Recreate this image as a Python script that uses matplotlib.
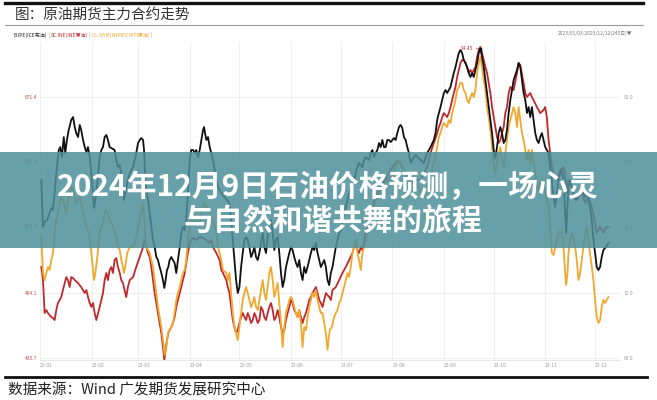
import matplotlib
matplotlib.use("Agg")
import matplotlib.pyplot as plt
import numpy as np
import pandas as pd
from matplotlib.patches import Rectangle
from matplotlib.lines import Line2D

plt.rcParams['font.family'] = ['Noto Sans CJK SC', 'DejaVu Sans']

# ---------------- data (days counted from 2023-01-01) ----------------
brent_day = [0.8, 1.8, 2.8, 4.2, 5.8, 6.6, 7.8, 8.8, 9.8, 11.3, 12.2, 13.2, 14.3, 15.2, 16.2, 17.3,
             18.8, 19.9, 20.9, 21.8, 22.9, 23.9, 24.8, 25.9, 26.9, 27.9, 28.9, 29.9, 30.9, 31.9, 32.5,
             33.3, 34.5, 35.9, 36.9, 37.9, 38.9, 39.9, 40.9, 41.9, 42.9, 44.9, 45.9, 46.9, 48.0, 48.9,
             49.9, 50.5, 51.3, 52.5, 54.0, 56.0,
             57.9, 59.0, 60.0, 60.9, 62.0, 62.6, 63.2, 64.0, 65.0, 66.0, 67.0, 68.0, 69.0, 70.0, 71.0,
             72.0, 73.0, 74.0, 74.8, 75.6, 76.4, 77.2, 78.0, 79.0, 80.0, 81.0, 82.0, 83.0, 84.1, 85.0,
             86.0, 87.1, 88.0, 89.0, 90.1, 91.0, 92.1, 93.1, 94.0, 95.1, 96.1, 97.1, 98.1, 98.7, 99.3,
             100.1, 101.1, 102.1, 103.1, 104.1, 105.1, 106.1, 107.1, 108.1, 109.1, 111.1, 114,
             115, 116, 117, 118, 119, 120, 121, 122, 123, 124, 125, 126, 127, 128, 129, 130, 131, 132,
             133, 134, 135, 136, 137, 138, 139, 140, 141, 142, 143, 144, 145, 146, 147, 148, 149, 150,
             151, 152, 153, 154, 155, 156, 157, 158, 159, 160, 161, 162, 163, 164, 165, 166, 167, 168, 169,
             171, 172, 173, 174, 175, 176, 177, 178, 179, 180, 181, 182, 183, 184, 185, 186, 187, 188,
             189, 190, 191, 192, 194, 195, 196, 198, 199, 200, 201, 202, 203, 204, 205, 206, 207, 208,
             209, 210, 211, 212, 213, 214, 215, 216, 217, 218, 219, 220, 221, 222, 223, 224, 225, 226,
             229, 231, 233, 235, 237, 238, 239, 240, 241, 242, 243, 244, 245, 246, 247, 248, 249, 250,
             251, 252, 253, 254, 255, 256, 257, 258, 259, 260, 261, 262, 263, 264, 265, 266, 267, 268,
             269, 270, 271, 272, 273, 274, 275, 276, 277, 278, 279, 280, 281, 282, 283, 284,
             285, 287, 288, 289, 290, 291, 292, 293, 294, 295, 296, 297, 298, 299, 300, 301, 302, 303,
             304, 305, 306, 307, 308, 309, 310, 311, 312, 313, 314, 315, 316, 316.6, 317.4, 318, 319,
             320, 321, 322, 323, 324, 325, 326, 327, 328, 329, 330, 331, 332, 333, 334, 335, 336, 337,
             338, 339, 340, 342]
brent_usd = [82.37, 78.05, 78.51, 78.69, 79.33, 79.79, 79.61, 81.17, 83.01, 85.13, 85.40, 84.48, 86.32,
             84.85, 86.05, 86.97, 87.89, 88.16, 87.24, 86.69, 86.32, 87.43, 86.97, 86.05, 85.40, 84.94,
             85.40, 84.48, 83.01, 81.17, 79.79, 80.53, 82.09, 84.48, 85.13, 85.40, 86.32, 86.51, 86.05,
             85.40, 85.31, 85.13, 84.21, 83.56, 83.74, 83.01, 82.09, 80.53, 81.17, 82.09, 83.01, 83.56,
             84.85, 85.77, 86.05, 86.23, 86.05, 85.13, 83.01, 81.45, 80.53, 79.33, 78.05, 76.85, 76.21,
             75.29, 75.01, 74.37, 73.82, 73.17, 72.44, 73.17, 74.09, 74.37, 75.01, 75.29, 75.01, 74.74,
             73.82, 75.01, 76.21, 77.49, 78.05, 77.77, 78.69, 81.17, 84.21, 85.13, 85.13, 84.85, 85.13,
             84.48, 85.13, 86.05, 86.97, 87.24, 86.69, 86.05, 86.32, 85.40, 84.85, 84.21, 83.29, 82.37,
             81.72, 81.45, 81.17, 80.80, 80.25,
             78.69, 76.85, 75.01, 73.17, 71.98, 72.53, 74.37, 75.66, 76.85, 77.13, 76.85, 76.21, 75.29,
             75.66, 76.21, 75.29, 75.01, 75.66, 76.57, 77.49, 76.21, 75.66, 77.13, 78.41, 78.69, 77.49,
             75.93, 76.85, 77.13, 75.66, 73.82, 72.53, 73.17, 74.37, 75.01, 75.66, 76.21, 75.93, 75.29,
             74.74, 74.37, 75.01, 73.82, 73.17, 74.37, 73.82, 74.37, 75.01, 75.66, 76.21, 75.93, 76.57,
             75.66, 75.01, 74.37,
             75.01, 74.37, 73.17, 72.71, 73.82, 74.37, 75.29, 76.21, 76.85, 77.49, 77.77, 78.69, 79.33,
             79.89, 80.53, 81.17, 81.72, 82.09, 82.37, 83.01, 83.56, 83.93, 83.56, 84.21, 84.48, 84.21,
             84.85, 85.13, 84.48, 84.85, 85.13, 85.77, 85.40, 86.05, 85.40, 85.40, 86.05, 86.05, 85.86,
             86.05, 86.23, 86.05, 86.69, 87.24, 87.43, 87.15, 86.32, 86.05, 85.40, 84.85, 83.93, 84.21,
             84.48, 84.67,
             84.21, 83.93, 84.85, 85.40, 86.05, 86.69, 87.89, 88.53, 89.08, 89.72, 90.37, 90.64, 90.37,
             90.64, 90.92, 91.56, 92.21, 92.76, 93.40, 94.05, 94.32, 94.05, 93.40, 93.13, 92.76, 92.21,
             91.84, 92.21, 91.84, 92.48, 93.13, 94.05, 94.45, 93.68, 92.76, 91.56, 90.37, 89.08, 87.89,
             86.69, 85.13, 84.39, 85.40, 86.69, 87.24, 86.69, 85.77, 86.05, 86.97, 88.53, 89.72, 90.64,
             91.56, 92.48, 93.13, 92.76, 91.56, 90.37, 89.72, 88.53, 89.08, 88.16, 89.08, 87.89, 86.69,
             86.05, 85.77, 86.32, 86.69, 86.05, 85.40, 85.13, 84.85, 83.56, 82.37, 80.80, 79.89, 81.17,
             82.37, 83.01, 83.29, 82.37, 79.33, 77.49, 79.89, 81.72, 82.37, 81.72, 81.17, 80.80, 80.53,
             80.80, 81.45, 81.72, 81.17, 80.80, 81.17, 80.53, 79.89, 78.69, 76.85, 75.66, 74.37, 74.09,
             74.37, 75.29, 75.93, 76.11, 76.57]

wti_day = [0.8, 1.8, 2.8, 3.8, 4.8, 5.8, 6.8, 7.8, 8.8, 9.8, 10.8, 11.9, 12.8, 13.8, 14.9, 15.8, 16.8,
           17.9, 18.8, 19.9, 20.9, 21.8, 22.9, 23.9, 24.8, 25.9, 26.9, 27.9, 28.9, 29.9, 30.9, 31.9,
           32.5, 33.3, 34.5, 35.9, 36.9, 37.9, 38.9, 39.9, 40.9, 41.9, 43.9, 45.9, 46.9, 48.0, 48.9,
           49.9, 50.5, 51.3, 52.5, 54.0, 56.0, 57.2,
           62.0, 64.0, 66.0, 68.0, 70.0, 71.0, 72.0, 73.0, 74.0, 75.0, 76.0, 77.0, 78.0, 79.0, 80.0,
           81.0, 82.0, 83.0, 84.1, 85.0, 86.0, 87.1, 88.0, 89.0, 90.1, 91.0, 92.1, 94.0, 96.1, 97.1,
           98.1, 99.1, 100.1, 101.1, 102.1, 104.1, 106.1, 107.1, 108.1, 109.1, 110.1, 112.1,
           113, 114, 115, 116, 117, 118, 119, 120, 121, 122, 123, 124, 125, 126, 127, 128, 129, 130,
           131, 132, 133, 134, 135, 136, 137, 138, 139, 140, 141, 142, 143, 144, 145, 146, 147, 148,
           149, 150, 151, 152, 153, 154, 155, 156, 157, 158, 159, 160, 161, 162, 163, 164, 165, 166,
           167, 168, 169,
           170, 171, 172, 173, 173.6, 174.4, 175.6, 177, 178, 179, 180, 181, 182, 183, 184, 185, 186,
           187, 188, 189, 190, 191, 192, 193, 194, 195, 196, 197, 198, 199, 200, 201, 202, 204, 206,
           208, 210, 212, 214, 216, 218, 220, 222, 224, 226, 228,
           229, 231, 233, 235, 237, 239, 240, 241, 242, 243, 245, 246, 247, 248, 249, 250, 251, 252,
           253, 254, 255, 256, 257, 258, 259, 260, 261, 262, 263, 264, 265, 266, 267, 268, 269, 270,
           271, 272, 273, 274, 275, 276, 277, 278, 279, 280, 281, 282, 283,
           285, 286, 287, 288, 289, 290, 291, 292, 293, 294, 295, 296, 297, 298, 299, 300, 301, 302,
           303, 304, 305, 306, 307, 308, 309, 310, 311, 312, 313, 314, 315, 316, 316.6, 317.4, 318,
           319, 320, 321, 322, 323, 324, 325, 326, 327, 328, 329, 330, 331, 332, 333, 334, 335, 336,
           337, 338, 339, 340, 342]
wti_usd = [77.13, 73.82, 73.17, 73.82, 74.37, 74.09, 75.01, 75.66, 77.49, 78.69, 79.33, 80.25, 80.80,
           80.53, 79.89, 79.33, 80.53, 81.17, 81.72, 81.45, 80.80, 80.25, 80.53, 80.80, 80.25, 79.33,
           78.69, 78.05, 77.77, 76.85, 75.66, 74.09, 73.17, 73.82, 75.29, 77.49, 78.05, 78.41, 79.33,
           79.61, 79.15, 78.69, 78.05, 77.13, 76.21, 75.93, 75.01, 74.37, 73.82, 74.37, 75.66, 76.21,
           76.21, 76.57,
           80.25, 76.21, 75.66, 74.37, 71.98, 70.69, 69.77, 68.85, 67.66, 66.28, 67.01, 68.30, 68.57,
           68.85, 69.22, 70.14, 71.33, 71.98, 72.53, 73.17, 73.82, 74.09, 75.01, 76.85, 78.05, 78.69,
           78.51, 78.69, 78.41, 79.33, 79.89, 80.25, 79.89, 79.61, 79.33, 78.69, 77.49, 76.21, 75.66,
           75.01, 74.09, 73.82,
           73.17, 73.82, 71.98, 70.14, 68.85, 68.30, 67.66, 68.85, 70.14, 71.33, 71.98, 72.53, 71.98,
           71.33, 70.69, 71.06, 71.61, 70.69, 70.41, 71.33, 72.25, 73.17, 71.98, 71.33, 72.53, 73.82,
           74.37, 73.17, 71.61, 72.25, 72.90, 71.06, 69.22, 67.01, 68.85, 70.14, 70.69, 71.33, 71.61,
           71.33, 70.69, 70.14, 69.77, 70.41, 69.22, 67.01, 68.85, 68.57, 69.77, 70.69, 71.33, 71.98,
           71.61, 72.25, 71.33, 70.69, 70.14,
           70.14, 69.22, 68.30, 66.74, 67.66, 68.57, 68.85, 69.77, 70.14, 70.41, 71.06, 71.33, 71.98,
           72.53, 73.17, 73.82, 73.45, 74.37, 75.66, 76.21, 76.85, 75.66, 75.01, 74.09, 75.66, 76.21,
           76.85, 77.49, 78.05, 78.69, 79.33, 79.89, 80.53, 81.17, 81.72, 82.09, 82.37, 82.64, 83.56,
           84.21, 83.56, 83.01, 82.09, 81.72, 82.09, 81.72,
           81.17, 80.80, 81.72, 82.64, 83.93, 85.40, 86.32, 86.69, 87.24, 87.61, 87.24, 87.89, 87.61,
           88.53, 89.08, 89.72, 90.64, 90.92, 91.29, 91.29, 90.64, 90.37, 89.72, 89.45, 90.00, 90.37,
           90.00, 90.64, 92.21, 93.13, 93.68, 92.76, 91.56, 90.64, 89.08, 88.16, 86.97, 85.40, 83.93,
           83.01, 83.93, 84.85, 85.40, 84.48, 83.56, 84.85, 86.05, 87.24, 87.89,
           89.08, 88.53, 87.24, 89.08, 87.89, 86.69, 86.05, 85.13, 84.21, 85.13, 83.93, 85.13, 83.93,
           83.01, 81.72, 81.45, 82.09, 82.37, 81.72, 81.17, 80.53, 79.89, 78.05, 75.66, 75.47, 76.21,
           76.85, 77.49, 77.77, 77.49, 76.21, 73.82, 72.71, 73.82, 75.66, 76.85, 77.49, 77.13, 76.21,
           75.01, 73.17, 73.82, 75.01, 76.21, 77.49, 78.05, 76.85, 75.66, 74.37, 73.17, 71.33, 69.77,
           69.22, 69.49, 70.69, 71.33, 71.06, 71.61]

sc_day = [0.8, 1.8, 2.8, 3.8, 4.8, 5.8, 6.8, 7.8, 8.8, 9.8, 10.8, 11.9, 12.8, 13.8, 14.9, 15.8, 16.8,
          17.9, 18.8, 19.9, 20.9, 22.9, 24.8, 26.9, 27.9, 28.9, 29.9, 30.9, 31.9, 32.9, 33.9, 35.0,
          35.9, 36.9, 37.9, 38.9, 39.9, 40.9, 41.9, 42.9, 43.9, 44.9, 45.9, 46.9, 48.0, 48.9, 49.9,
          50.9, 51.9, 52.9, 54.0, 56.0,
          57.9, 60.0, 62.0, 63.0, 64.0, 65.0, 66.0, 67.0, 68.0, 69.0, 70.0, 71.0, 72.0, 73.0, 74.0,
          74.8, 75.6, 76.4, 77.2, 78.0, 79.0, 80.0, 81.0, 82.0, 83.0, 84.1, 85.0, 86.0, 87.1, 88.0,
          89.0, 90.1, 91.0, 92.1, 94.0, 96.1, 98.1, 100.1, 102.1, 103.1, 104.1, 106.1, 108.1, 109.1,
          110.1, 112.1,
          113, 114, 115, 116, 117, 118, 119, 120, 121, 122, 123, 124, 125, 126, 127, 128, 129, 130,
          131, 132, 133, 134, 135, 136, 137, 138, 139, 140, 141, 142, 143, 144, 145, 146, 147, 148,
          149, 150, 151, 152, 153, 154, 155, 156, 157, 158, 159, 160, 161, 162, 163, 164, 165, 166,
          167, 168, 169,
          170, 172, 174, 175, 176, 178, 180, 182, 184, 186, 188, 189, 190, 191, 192, 193, 194, 195,
          196, 197, 198, 200, 202, 204, 206, 208, 210, 212, 214, 216, 218, 220, 222, 224, 226,
          229, 231, 233, 235, 237, 239, 240, 241, 242, 243, 245, 246, 247, 248, 249, 250, 251, 252,
          253, 254, 255, 256, 257, 258, 259, 260, 261, 262, 263, 264, 265, 266, 267, 268, 269, 270,
          271, 272, 273, 274, 275, 276, 277, 278, 279, 280, 281, 282, 283,
          285, 287, 288, 289, 291, 292, 293, 295, 296, 297, 299, 301, 303, 304, 305, 306, 307, 308,
          309, 311, 313, 315, 316, 317, 318, 320, 322, 324, 326, 328, 330, 332, 334, 335, 336, 337,
          338, 339, 340, 342]
sc_cny = [517.9, 506.1, 476.3, 479.0, 476.3, 474.5, 472.7, 471.8, 470.0, 479.0, 485.4, 488.1, 490.8,
          497.1, 503.4, 508.8, 506.1, 499.8, 508.8, 508.0, 506.1, 503.4, 499.8, 494.4, 497.1, 490.8,
          485.4, 481.8, 485.4, 476.3, 470.0, 476.3, 481.8, 488.1, 494.4, 506.1, 512.5, 506.1, 515.2,
          517.9, 512.5, 524.2, 526.0, 517.9, 512.5, 506.1, 503.4, 497.1, 490.8, 499.8, 506.1, 508.8,
          517.9, 526.9, 535.9, 542.3, 535.9, 530.5, 526.9, 517.9, 506.1, 494.4, 485.4, 476.3, 467.3,
          458.3, 445.6, 433.9, 442.9, 451.9, 458.3, 461.0, 463.7, 467.3, 472.7, 481.8, 488.1, 494.4,
          499.8, 506.1, 512.5, 521.5, 530.5, 539.5, 542.3, 544.1, 542.3, 545.0, 544.1, 542.3, 539.5,
          542.3, 535.9, 530.5, 524.2, 515.2, 512.5, 506.1,
          499.8, 494.4, 481.8, 470.0, 463.7, 458.3, 461.0, 467.3, 472.7, 476.3, 472.7, 470.0, 476.3,
          472.7, 467.3, 470.0, 476.3, 472.7, 467.3, 470.0, 481.8, 479.0, 472.7, 470.0, 476.3, 481.8,
          485.4, 479.0, 470.0, 472.7, 479.0, 472.7, 463.7, 458.3, 461.0, 470.0, 476.3, 481.8, 488.1,
          485.4, 479.0, 476.3, 472.7, 479.0, 472.7, 467.3, 472.7, 476.3, 481.8, 488.1, 490.8, 494.4,
          497.1, 499.8, 494.4, 488.1, 485.4,
          481.8, 494.4, 490.8, 488.1, 497.1, 499.8, 506.1, 512.5, 517.9, 524.2, 530.5, 535.9, 542.3,
          533.2, 530.5, 535.9, 533.2, 539.5, 548.6, 554.0, 560.3, 572.1, 581.1, 587.4, 593.7, 596.4,
          602.8, 608.2, 611.8, 614.5, 608.2, 602.8, 596.4, 593.7, 596.4,
          596.4, 602.8, 608.2, 620.8, 629.9, 638.9, 644.3, 647.9, 653.3, 656.9, 653.3, 656.9, 662.4,
          668.7, 675.0, 680.4, 689.5, 695.8, 702.1, 704.8, 704.8, 702.1, 698.5, 693.1, 695.8, 693.1,
          695.8, 698.5, 707.5, 713.8, 716.6, 711.1, 704.8, 698.5, 693.1, 684.0, 675.0, 662.4, 653.3,
          644.3, 635.3, 629.9, 632.6, 638.9, 644.3, 656.9, 662.4, 675.0, 680.4,
          677.7, 693.1, 702.1, 700.3, 684.0, 675.0, 671.4, 675.0, 671.4, 668.7, 662.4, 656.9, 659.7,
          662.4, 653.3, 632.6, 620.8, 608.2, 602.8, 596.4, 605.5, 608.2, 602.8, 584.7, 596.4, 590.1,
          578.4, 581.1, 584.7, 575.7, 581.1, 572.1, 557.6, 548.6, 551.3, 554.0, 551.3, 548.6, 553.1,
          554.0]

left_ticks = [435.7, 494.1, 555.3, 613.4, 671.4]
right_ticks = [66.0, 72.0, 78.0, 84.0, 90.0]
month_labels = ['23-01', '23-02', '23-03', '23-04', '23-05', '23-06',
                '23-07', '23-08', '23-09', '23-10', '23-11', '23-12']
legend_parts = [('B.IPE(ICE布油)', '#222222'), (' | ', '#999999'),
                ('SC.INE(INE原油)', '#c0282d'), (' | ', '#999999'),
                ('CL.NYM(NYMEX WTI原油)', '#f0a92e'), (' |', '#999999')]

base = pd.Timestamp('2023-01-01')


def to_dates(days):
    return base + pd.to_timedelta(np.asarray(days, dtype=float), unit='D')


# ---------------- figure ----------------
W, H = 657, 400
fig = plt.figure(figsize=(W / 100, H / 100), dpi=100)
fig.patch.set_facecolor('white')

ax = fig.add_axes([40 / W, 40 / H, 580 / W, 318 / H])
ax2 = ax.twinx()

R_LO, R_HI = 65.82, 95.06
scale = (671.4 - 435.7) / 24.0
ax2.set_ylim(R_LO, R_HI)
ax.set_ylim(435.7 + (R_LO - 66) * scale, 435.7 + (R_HI - 66) * scale)
ax.set_xlim(base, base + pd.Timedelta(days=349))

LW = 1.3
ax.plot(to_dates(sc_day), sc_cny, color='#c0282d', lw=LW, zorder=3)
ax2.plot(to_dates(wti_day), wti_usd, color='#f0a92e', lw=LW, zorder=3)
ax2.plot(to_dates(brent_day), brent_usd, color='#111111', lw=LW, zorder=4)

# max annotation
imax = int(np.argmax(brent_usd))
pt = (to_dates([brent_day[imax]])[0], brent_usd[imax])
ax2.plot([pt[0]], [pt[1]], marker='s', ms=2, color='#111111', zorder=5)
ax2.annotate(f'{brent_usd[imax]:.2f}', xy=pt, xytext=(-5, 0), textcoords='offset points',
             fontsize=3.5, color='#c0282d', ha='right', va='center',
             arrowprops=dict(arrowstyle='-', color='#c0282d', lw=0.4, shrinkA=0, shrinkB=1.5))

# ticks / grid
month_starts = pd.date_range('2023-01-01', periods=12, freq='MS')
ax.set_xticks(month_starts)
ax.set_xticklabels(month_labels, fontsize=3.5, color='#999999', ha='left')
ax.set_yticks(left_ticks)
ax.set_yticklabels([f'{v:.1f}' for v in left_ticks], fontsize=3.5, color='#b84a4a')
ax2.set_yticks(right_ticks)
ax2.set_yticklabels([f'{v:.1f}' for v in right_ticks], fontsize=3.5, color='#999999')
ax.tick_params(axis='both', length=0, pad=2)
ax2.tick_params(axis='both', length=0, pad=3)
ax.grid(True, color='#ececec', lw=0.6, zorder=0)
ax.set_axisbelow(True)
for a in (ax, ax2):
    for s in a.spines.values():
        s.set_visible(False)
ax.spines['bottom'].set_visible(True)
ax.spines['bottom'].set_color('#e3e3e3')
ax.spines['bottom'].set_linewidth(0.6)

# ---------------- header ----------------
fig.add_artist(Line2D([5 / W, 643 / W], [1 - 3 / H, 1 - 3 / H], color='#111111', lw=2.4,
                      transform=fig.transFigure))
fig.text(15 / W, 1 - 15 / H, '图：原油期货主力合约走势', fontsize=10.5, color='#333333',
         ha='left', va='center')
fig.add_artist(Line2D([5 / W, 643 / W], [1 - 25 / H, 1 - 25 / H], color='#9a9a9a', lw=0.8,
                      transform=fig.transFigure))

fig.canvas.draw()
renderer = fig.canvas.get_renderer()
xpos = 14
for txt, col in legend_parts:
    t = fig.text(xpos / W, 1 - 35 / H, txt, fontsize=3.6, color=col, ha='left', va='center')
    bb = t.get_window_extent(renderer=renderer)
    xpos += bb.width

fig.text(632 / W, 1 - 33 / H, '2023/01/03-2023/12/12(245日)▼', fontsize=3.5, color='#777777',
         ha='right', va='center')

# ---------------- footer ----------------
fig.add_artist(Line2D([5 / W, 647 / W], [1 - 377 / H, 1 - 377 / H], color='#111111', lw=2.0,
                      transform=fig.transFigure))
fig.text(8 / W, 1 - 390 / H, '数据来源：Wind 广发期货发展研究中心', fontsize=10.5, color='#222222',
         ha='left', va='center')

# ---------------- overlay band ----------------
fig.add_artist(Rectangle((0, 1 - 248 / H), 1, 96 / H, transform=fig.transFigure,
                         facecolor='#4e8f9b', alpha=0.85, edgecolor='none', zorder=10))
fig.text(0.4985, 1 - 187 / H, '2024年12月9日石油价格预测，一场心灵', fontsize=21.5,
         fontweight='bold', color='white', ha='center', va='center', zorder=11)
fig.text(0.506, 1 - 221 / H, '与自然和谐共舞的旅程', fontsize=21.5,
         fontweight='bold', color='white', ha='center', va='center', zorder=11)

fig.savefig('out.png', dpi=100, facecolor='white')
